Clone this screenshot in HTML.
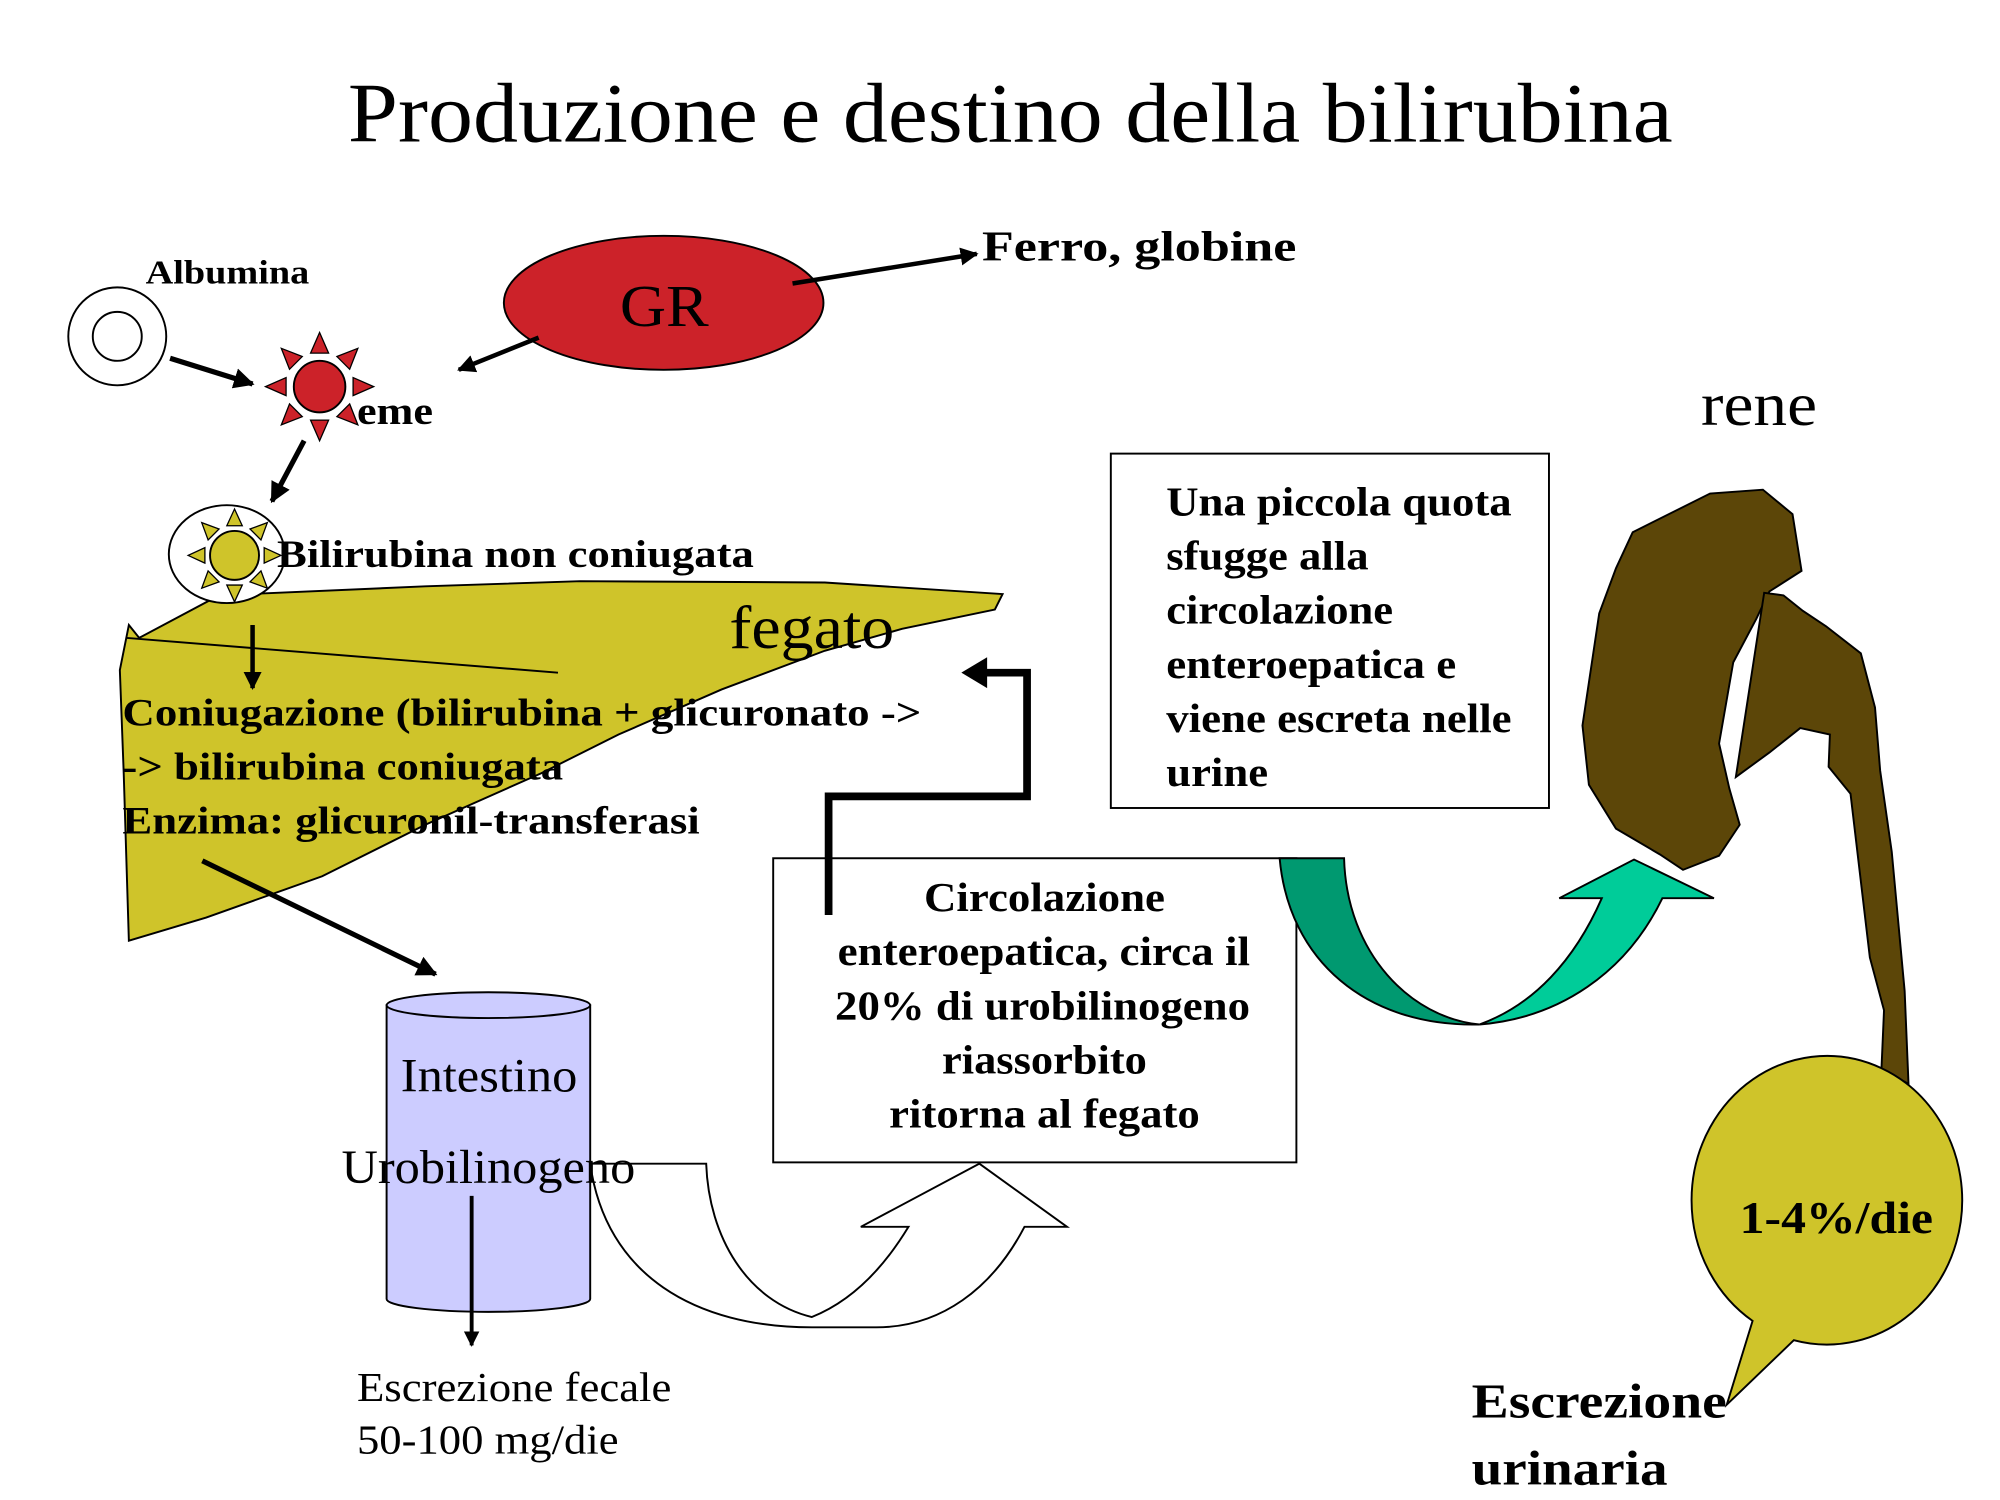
<!DOCTYPE html>
<html><head><meta charset="utf-8"><style>
html,body{margin:0;padding:0;background:#fff}
svg{display:block}
text{font-family:"Liberation Serif",serif}
.b{font-weight:bold}
</style></head><body>
<svg width="2000" height="1500" viewBox="0 0 1552 1164" xmlns="http://www.w3.org/2000/svg">
<defs>
<marker id="ah" viewBox="0 0 10 10" refX="9" refY="5" markerWidth="4" markerHeight="4" orient="auto" markerUnits="strokeWidth">
<path d="M0,0 L10,5 L0,10 Z" fill="#000"/></marker>
</defs>
<rect width="1552" height="1164" fill="#fff"/>
<text x="270" y="110" font-size="66" textLength="1028" lengthAdjust="spacingAndGlyphs">Produzione e destino della bilirubina</text>

<!-- GR -->
<ellipse cx="515" cy="235" rx="124" ry="52" fill="#cc2229" stroke="#000" stroke-width="1.5"/>
<text x="481" y="253" font-size="46" textLength="69" lengthAdjust="spacingAndGlyphs">GR</text>
<line x1="615" y1="220" x2="758" y2="197" stroke="#000" stroke-width="3.5" marker-end="url(#ah)"/>
<text x="762" y="202" font-size="33" class="b" textLength="244" lengthAdjust="spacingAndGlyphs">Ferro,  globine</text>
<line x1="418" y1="262" x2="356" y2="287" stroke="#000" stroke-width="3.5" marker-end="url(#ah)"/>

<!-- Albumina -->
<text x="113" y="220" font-size="26" class="b" textLength="127" lengthAdjust="spacingAndGlyphs">Albumina</text>
<circle cx="91" cy="261" r="38" fill="#fff" stroke="#000" stroke-width="1.5"/>
<circle cx="91" cy="261" r="19" fill="#fff" stroke="#000" stroke-width="1.5"/>
<line x1="132" y1="278" x2="196" y2="298" stroke="#000" stroke-width="4" marker-end="url(#ah)"/>

<!-- eme star -->
<g transform="translate(248,300)" fill="#cc2229" stroke="#000" stroke-width="1">
<g id="rays"><path d="M-7,-26 L0,-42 L7,-26 Z"/></g>
<use href="#rays" transform="rotate(45)"/><use href="#rays" transform="rotate(90)"/><use href="#rays" transform="rotate(135)"/>
<use href="#rays" transform="rotate(180)"/><use href="#rays" transform="rotate(225)"/><use href="#rays" transform="rotate(270)"/><use href="#rays" transform="rotate(315)"/>
<circle r="20" stroke-width="1.5"/>
</g>
<text x="277" y="329" font-size="30" class="b" textLength="59" lengthAdjust="spacingAndGlyphs">eme</text>
<line x1="236" y1="342" x2="211" y2="389" stroke="#000" stroke-width="4" marker-end="url(#ah)"/>

<!-- Liver -->
<path d="M100,485 L108,495 L170,462 L330,455 L450,451 L640,452 L778,461 L772,473 L700,488 L640,505 L560,535 L480,570 L420,600 L330,640 L250,680 L160,712 L100,730 L96,600 L93,520 Z" fill="#cfc42a" stroke="#000" stroke-width="1.5"/>
<line x1="98" y1="495" x2="433" y2="522" stroke="#000" stroke-width="1.5"/>
<text x="566" y="503" font-size="48" textLength="128" lengthAdjust="spacingAndGlyphs">fegato</text>

<!-- Bilirubina sun -->
<ellipse cx="176" cy="430" rx="45" ry="38" fill="#fff" stroke="#000" stroke-width="1.5"/>
<g transform="translate(182,431)" fill="#cfc42a" stroke="#000" stroke-width="1">
<g id="ry2"><path d="M-6,-23 L0,-36 L6,-23 Z"/></g>
<use href="#ry2" transform="rotate(45)"/><use href="#ry2" transform="rotate(90)"/><use href="#ry2" transform="rotate(135)"/>
<use href="#ry2" transform="rotate(180)"/><use href="#ry2" transform="rotate(225)"/><use href="#ry2" transform="rotate(270)"/><use href="#ry2" transform="rotate(315)"/>
<circle r="19" stroke-width="1.5"/>
</g>
<text x="215" y="440" font-size="30" class="b" textLength="370" lengthAdjust="spacingAndGlyphs">Bilirubina non coniugata</text>
<line x1="196" y1="485" x2="196" y2="534" stroke="#000" stroke-width="3.5" marker-end="url(#ah)"/>

<text x="95" y="563" font-size="30" class="b" textLength="620" lengthAdjust="spacingAndGlyphs">Coniugazione (bilirubina + glicuronato -&gt;</text>
<text x="95" y="605" font-size="30" class="b" textLength="342" lengthAdjust="spacingAndGlyphs">-&gt; bilirubina coniugata</text>
<text x="95" y="647" font-size="30" class="b" textLength="448" lengthAdjust="spacingAndGlyphs">Enzima: glicuronil-transferasi</text>
<line x1="157" y1="668" x2="338" y2="756" stroke="#000" stroke-width="4" marker-end="url(#ah)"/>

<!-- Intestine cylinder -->
<path d="M300,780 L300,1008 A79,10 0 0 0 458,1008 L458,780 Z" fill="#ccccff" stroke="#000" stroke-width="1.5"/>
<ellipse cx="379" cy="780" rx="79" ry="10" fill="#ccccff" stroke="#000" stroke-width="1.5"/>
<text x="311" y="847" font-size="37" textLength="137" lengthAdjust="spacingAndGlyphs">Intestino</text>

<!-- white U-arrow -->
<path d="M458,903 L548,903 C550,960 580,1010 630,1022 C660,1010 685,985 705,952 L668,952 L760,903 L828,952 L795,952 C770,1000 730,1030 680,1030 L630,1030 C540,1030 470,990 458,903 Z" fill="#fff" stroke="#000" stroke-width="1.5"/>
<text x="265" y="918" font-size="37" textLength="228" lengthAdjust="spacingAndGlyphs">Urobilinogeno</text>
<line x1="366" y1="928" x2="366" y2="1044" stroke="#000" stroke-width="3" marker-end="url(#ah)"/>
<text x="277" y="1087" font-size="32" textLength="244" lengthAdjust="spacingAndGlyphs">Escrezione fecale</text>
<text x="277" y="1128" font-size="32" textLength="203" lengthAdjust="spacingAndGlyphs">50-100 mg/die</text>

<!-- Circolazione box -->
<rect x="600" y="666" width="406" height="236" fill="#fff" stroke="#000" stroke-width="1.5"/>
<g font-size="32" class="b">
<text x="717" y="707" textLength="187" lengthAdjust="spacingAndGlyphs">Circolazione</text>
<text x="650" y="749" textLength="320" lengthAdjust="spacingAndGlyphs">enteroepatica, circa il</text>
<text x="648" y="791" textLength="322" lengthAdjust="spacingAndGlyphs">20% di urobilinogeno</text>
<text x="731" y="833" textLength="159" lengthAdjust="spacingAndGlyphs">riassorbito</text>
<text x="690" y="875" textLength="241" lengthAdjust="spacingAndGlyphs">ritorna al fegato</text>
</g>
<path d="M643,710 L643,618 L797,618 L797,522 L765,522" fill="none" stroke="#000" stroke-width="6"/>
<path d="M746,522 L766,510 L766,534 Z" fill="#000"/>

<!-- piccola quota box -->
<rect x="862" y="352" width="340" height="275" fill="#fff" stroke="#000" stroke-width="1.5"/>
<g font-size="32" class="b">
<text x="905" y="400" textLength="268" lengthAdjust="spacingAndGlyphs">Una piccola quota</text>
<text x="905" y="442" textLength="157" lengthAdjust="spacingAndGlyphs">sfugge alla</text>
<text x="905" y="484" textLength="176" lengthAdjust="spacingAndGlyphs">circolazione</text>
<text x="905" y="526" textLength="225" lengthAdjust="spacingAndGlyphs">enteroepatica e</text>
<text x="905" y="568" textLength="268" lengthAdjust="spacingAndGlyphs">viene escreta nelle</text>
<text x="905" y="610" textLength="79" lengthAdjust="spacingAndGlyphs">urine</text>
</g>

<!-- teal arrow -->
<path d="M993,666 L1043,666 C1045,740 1095,790 1148,795 C1060,797 1000,745 993,666 Z" fill="#009970" stroke="#000" stroke-width="1.5"/>
<path d="M1148,795 C1210,790 1262,755 1290,697 L1330,697 L1268,667 L1210,697 L1243,697 C1222,745 1190,780 1148,795 Z" fill="#00cc99" stroke="#000" stroke-width="1.5"/>

<text x="1320" y="330" font-size="48" textLength="90" lengthAdjust="spacingAndGlyphs">rene</text>

<!-- kidney -->
<path d="M1267,413 L1327,383 L1368,380 L1391,399 L1398,443 L1373,459 L1363,480 L1345,514 L1334,577 L1342,612 L1350,640 L1334,664 L1306,675 L1288,663 L1254,643 L1233,609 L1228,563 L1241,476 L1254,441 Z" fill="#5c4608" stroke="#000" stroke-width="1.5"/>
<path d="M1369,460 L1384,462 L1399,474 L1417,486 L1444,507 L1455,549 L1459,598 L1468,661 L1478,769 L1481,841 L1460,830 L1462,784 L1451,743 L1436,616 L1419,595 L1420,570 L1397,565 L1373,584 L1347,603 Z" fill="#5c4608" stroke="#000" stroke-width="1.5"/>

<!-- bubble -->
<path d="M1360,1025 A105,112 0 1 1 1392,1040 L1340,1090 Z" fill="#cfc42a" stroke="#000" stroke-width="1.5"/>
<text x="1350" y="957" font-size="35" class="b" textLength="150" lengthAdjust="spacingAndGlyphs">1-4%/die</text>
<text x="1142" y="1100" font-size="38" class="b" textLength="198" lengthAdjust="spacingAndGlyphs">Escrezione</text>
<text x="1142" y="1152" font-size="38" class="b" textLength="152" lengthAdjust="spacingAndGlyphs">urinaria</text>
</svg>
</body></html>
